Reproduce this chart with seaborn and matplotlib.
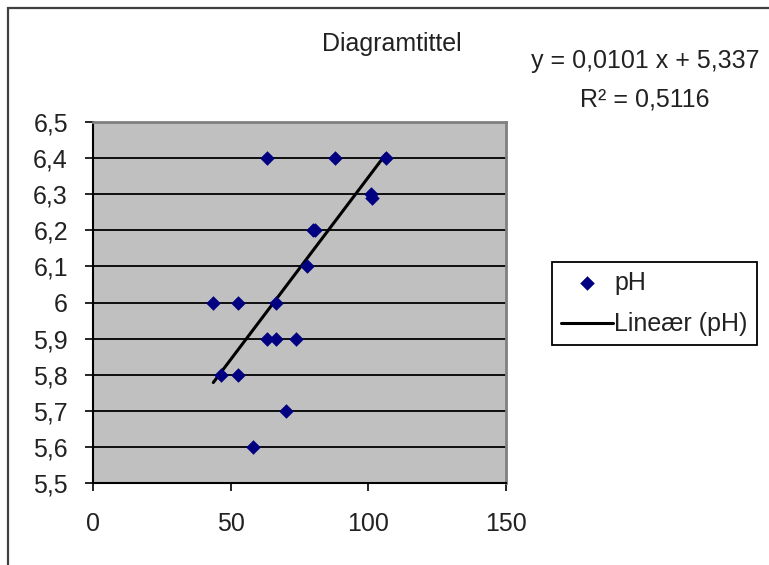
import matplotlib
matplotlib.use("Agg")
import matplotlib.pyplot as plt
import matplotlib.ticker as mticker
from matplotlib.patches import Rectangle
import seaborn as sns
import numpy as np
import pandas as pd

# Data
x_vals = [63.3, 88.0, 106.4, 101.0, 101.2, 79.8, 80.6, 77.6, 43.7, 52.5, 66.4, 63.3, 66.4, 73.6, 46.5, 52.5, 70.0, 58.0]
ph_vals = [6.4, 6.4, 6.4, 6.3, 6.29, 6.2, 6.2, 6.1, 6.0, 6.0, 6.0, 5.9, 5.9, 5.9, 5.8, 5.8, 5.7, 5.6]
trend_slope = 0.0101
trend_intercept = 5.337
x_ticks = [0, 50, 100, 150]
y_ticks = [5.5, 5.6, 5.7, 5.8, 5.9, 6.0, 6.1, 6.2, 6.3, 6.4, 6.5]
title = "Diagramtittel"
equation = "y = 0,0101 x + 5,337"
r2_text = "R² = 0,5116"
series_label = "pH"
trend_label = "Lineær (pH)"

df = pd.DataFrame({"x": x_vals, "pH": ph_vals})
trend_x = np.array([min(x_vals), max(x_vals)])
trend_df = pd.DataFrame({"x": trend_x, "pH": trend_intercept + trend_slope * trend_x})

sns.set_style("white")
plt.rcParams["font.family"] = ["Liberation Sans", "DejaVu Sans"]
FS = 18
TC = "#222222"

fig = plt.figure(figsize=(7.69, 5.65), dpi=100)
ax = fig.add_axes([93 / 769, (565 - 483) / 565, (506 - 93) / 769, (483 - 122) / 565])
ax.set_facecolor("#C0C0C0")

sns.scatterplot(data=df, x="x", y="pH", ax=ax, marker="D", s=55, color="#000080",
                edgecolor="#000080", linewidth=0, label=series_label, zorder=4)
sns.lineplot(data=trend_df, x="x", y="pH", ax=ax, color="black", lw=2.2,
             label=trend_label, zorder=3)

ax.set_xlim(0, 150)
ax.set_ylim(5.5, 6.5)
ax.set_xticks(x_ticks)
ax.set_yticks(y_ticks)
fmt = mticker.FuncFormatter(lambda v, p: f"{v:g}".replace(".", ","))
ax.xaxis.set_major_formatter(fmt)
ax.yaxis.set_major_formatter(fmt)
ax.set_xlabel("")
ax.set_ylabel("")

ax.yaxis.grid(True, color="black", lw=1.3)
ax.set_axisbelow(True)
ax.xaxis.grid(False)

for s in ["top", "right"]:
    ax.spines[s].set_color("#808080")
    ax.spines[s].set_linewidth(2)
for s in ["left", "bottom"]:
    ax.spines[s].set_color("black")
    ax.spines[s].set_linewidth(1.5)

ax.tick_params(axis="y", direction="out", length=6, width=1.2, color="black",
               pad=12, labelsize=FS, labelcolor=TC, left=True)
ax.tick_params(axis="x", direction="out", length=6, width=1.2, color="black",
               pad=15, labelsize=FS, labelcolor=TC, bottom=True)

fig.text(392 / 769, 1 - 44 / 565, title, ha="center", va="center", fontsize=FS, color=TC)
fig.text(645 / 769, 1 - 61 / 565, equation, ha="center", va="center", fontsize=FS, color=TC)
fig.text(645 / 769, 1 - 99 / 565, r2_text, ha="center", va="center", fontsize=FS, color=TC)

leg = ax.legend(loc="upper left", bbox_to_anchor=(552 / 769, 1 - 262 / 565),
                bbox_transform=fig.transFigure, frameon=True, fancybox=False,
                edgecolor="black", framealpha=1, borderaxespad=0, fontsize=FS,
                handlelength=2.1, handletextpad=0.05, labelspacing=0.7, borderpad=0.35)
leg.get_frame().set_linewidth(1.3)
for t in leg.get_texts():
    t.set_color(TC)

fig.patches.append(Rectangle((8 / 769, -0.1), 1.2, 1 - 8 / 565 + 0.1,
                             transform=fig.transFigure, fill=False,
                             edgecolor="#404040", lw=1.6, zorder=0))

fig.savefig("out.png", dpi=100, facecolor="white")
